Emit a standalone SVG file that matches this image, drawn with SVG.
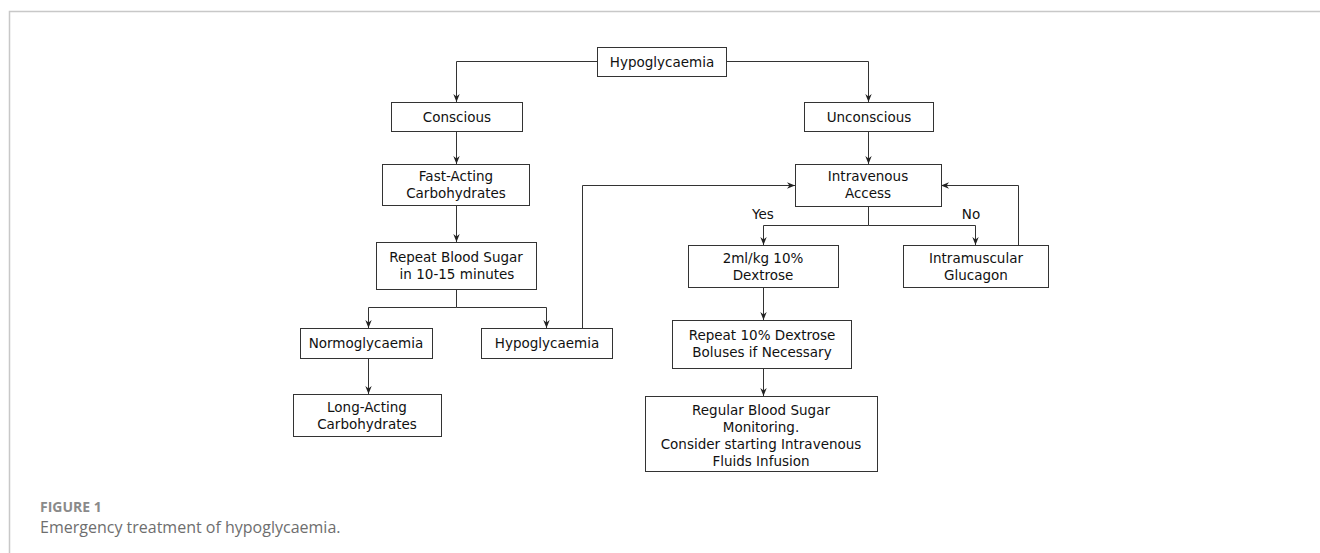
<svg xmlns="http://www.w3.org/2000/svg" width="1320" height="553" viewBox="0 0 1320 553">
<style>
.box{fill:#fff;stroke:#333;stroke-width:1}
.t{font-family:"DejaVu Sans",sans-serif;font-size:13.5px;fill:#111;text-anchor:middle}
.c{fill:none;stroke:#333;stroke-width:1}
.frame{fill:none;stroke:#c8c8c8;stroke-width:1.5}
</style>
<defs>
<marker id="ah" viewBox="0 0 10 10" refX="10" refY="5" markerWidth="8" markerHeight="8" markerUnits="userSpaceOnUse" orient="auto">
<path d="M0,1 L10,5 L0,9 L3,5 Z" fill="#222"/>
</marker>
</defs>
<rect width="1320" height="553" fill="#fff"/>
<path class="frame" d="M9.5,560 V11.5 H1320"/>
<g id="connectors">
<path class="c" d="M597,61.5 H456.5 V102" marker-end="url(#ah)"/>
<path class="c" d="M726,61.5 H868.5 V102" marker-end="url(#ah)"/>
<path class="c" d="M456.5,131 V164" marker-end="url(#ah)"/>
<path class="c" d="M456.5,205 V242" marker-end="url(#ah)"/>
<path class="c" d="M456.5,289 V307.5 H368.5 V328" marker-end="url(#ah)"/>
<path class="c" d="M456.5,307.5 H546.5 V328" marker-end="url(#ah)"/>
<path class="c" d="M368.5,358 V394" marker-end="url(#ah)"/>
<path class="c" d="M582.5,328 V185.5 H795" marker-end="url(#ah)"/>
<path class="c" d="M868.5,131 V164" marker-end="url(#ah)"/>
<path class="c" d="M868.5,206 V225.5 H763.5 V245" marker-end="url(#ah)"/>
<path class="c" d="M868.5,225.5 H975.5 V245" marker-end="url(#ah)"/>
<path class="c" d="M1018.5,245 V185.5 H941" marker-end="url(#ah)"/>
<path class="c" d="M763.5,287 V320" marker-end="url(#ah)"/>
<path class="c" d="M763.5,368 V396" marker-end="url(#ah)"/>
<text class="t" x="763" y="219">Yes</text>
<text class="t" x="971" y="219">No</text>
</g>
<g id="n-hypo"><rect class="box" x="597.5" y="47.5" width="129" height="29"/><text class="t" x="662" y="66.5">Hypoglycaemia</text></g>
<g id="n-conscious"><rect class="box" x="391.5" y="102.5" width="131" height="29"/><text class="t" x="457" y="121.5">Conscious</text></g>
<g id="n-unconscious"><rect class="box" x="804.5" y="102.5" width="129" height="29"/><text class="t" x="869" y="121.5">Unconscious</text></g>
<g id="n-fast"><rect class="box" x="382.5" y="164.5" width="147" height="41"/><text class="t" x="456" y="181">Fast-Acting</text><text class="t" x="456" y="198">Carbohydrates</text></g>
<g id="n-iv"><rect class="box" x="795.5" y="164.5" width="146" height="42"/><text class="t" x="868" y="181">Intravenous</text><text class="t" x="868" y="198">Access</text></g>
<g id="n-repeat"><rect class="box" x="376.5" y="242.5" width="160" height="47"/><text class="t" x="456" y="262">Repeat Blood Sugar</text><text class="t" x="457" y="279">in 10-15 minutes</text></g>
<g id="n-dextrose"><rect class="box" x="688.5" y="245.5" width="150" height="42"/><text class="t" x="763" y="263">2ml/kg 10%</text><text class="t" x="763" y="280">Dextrose</text></g>
<g id="n-glucagon"><rect class="box" x="903.5" y="245.5" width="145" height="42"/><text class="t" x="976" y="263">Intramuscular</text><text class="t" x="976" y="280">Glucagon</text></g>
<g id="n-normo"><rect class="box" x="300.5" y="328.5" width="132" height="30"/><text class="t" x="366" y="348">Normoglycaemia</text></g>
<g id="n-hypo2"><rect class="box" x="481.5" y="328.5" width="131" height="30"/><text class="t" x="547" y="348">Hypoglycaemia</text></g>
<g id="n-bolus"><rect class="box" x="672.5" y="320.5" width="179" height="48"/><text class="t" x="762" y="340">Repeat 10% Dextrose</text><text class="t" x="762" y="357">Boluses if Necessary</text></g>
<g id="n-long"><rect class="box" x="293.5" y="394.5" width="148" height="42"/><text class="t" x="367" y="412">Long-Acting</text><text class="t" x="367" y="429">Carbohydrates</text></g>
<g id="n-regular"><rect class="box" x="645.5" y="396.5" width="232" height="75"/><text class="t" x="761" y="415">Regular Blood Sugar</text><text class="t" x="761" y="432">Monitoring.</text><text class="t" x="761" y="449">Consider starting Intravenous</text><text class="t" x="761" y="466">Fluids Infusion</text></g>
<g id="caption">
<text x="40" y="512" font-family="'Open Sans',sans-serif" font-size="14px" font-weight="bold" fill="#8a8a8a">FIGURE 1</text>
<text x="40" y="533" font-family="'Open Sans',sans-serif" font-size="16px" fill="#6e6e6e">Emergency treatment of hypoglycaemia.</text>
</g>
</svg>
